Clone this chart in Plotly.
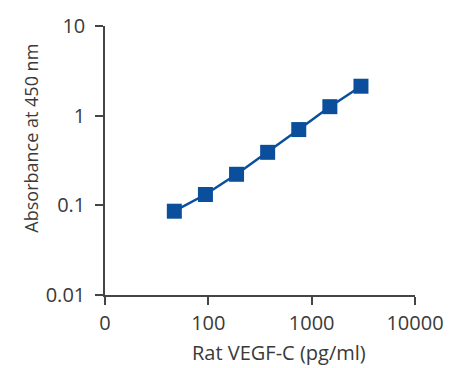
import plotly.graph_objects as go

concentration = [46.875, 93.75, 187.5, 375, 750, 1500, 3000]
absorbance = [0.086, 0.132, 0.222, 0.39, 0.70, 1.26, 2.13]

x_tickvals = [10, 100, 1000, 10000]
x_ticktext = ["0", "100", "1000", "10000"]
y_tickvals = [0.01, 0.1, 1, 10]
y_ticktext = ["0.01", "0.1", "1", "10"]

blue = "#0b4f9c"
axis_col = "#454545"
text_col = "#3a3a3a"
font_fam = "Open Sans"

fig = go.Figure(go.Scatter(
    x=concentration, y=absorbance, mode="lines+markers",
    line=dict(color=blue, width=2.5),
    marker=dict(symbol="square", size=15, color=blue),
))

fig.update_layout(
    width=456, height=368,
    margin=dict(l=105, r=38, t=21, b=73),
    paper_bgcolor="white", plot_bgcolor="white",
    showlegend=False,
    font=dict(family=font_fam, color=text_col, size=18),
    xaxis=dict(type="log", range=[1, 4], tickvals=x_tickvals, ticktext=x_ticktext,
               showgrid=False, zeroline=False, showline=True, linecolor=axis_col, linewidth=1.5,
               ticks="outside", ticklen=8, tickwidth=1.5, tickcolor=axis_col,
               ticklabelstandoff=1,
               tickfont=dict(size=20, family=font_fam, color=text_col)),
    yaxis=dict(type="log", range=[-2, 1], tickvals=y_tickvals, ticktext=y_ticktext,
               showgrid=False, zeroline=False, showline=True, linecolor=axis_col, linewidth=1.5,
               ticks="outside", ticklen=8, tickwidth=1.5, tickcolor=axis_col,
               ticklabelstandoff=6,
               tickfont=dict(size=20, family=font_fam, color=text_col)),
    annotations=[
        dict(text="Rat VEGF-C (pg/ml)", xref="paper", yref="paper",
             x=(281 - 105) / 313, y=-(354 - 295) / 274, showarrow=False,
             xanchor="center", yanchor="middle", font=dict(size=20, family=font_fam, color=text_col)),
        dict(text="Absorbance at 450 nm", xref="paper", yref="paper", textangle=-90,
             x=(30 - 105) / 313, y=(295 - 135) / 274, showarrow=False,
             xanchor="center", yanchor="middle", font=dict(size=18, family=font_fam, color=text_col)),
    ],
)

fig.write_html("out.html", config={"displayModeBar": False},
               post_script="document.body.style.margin='0';")
